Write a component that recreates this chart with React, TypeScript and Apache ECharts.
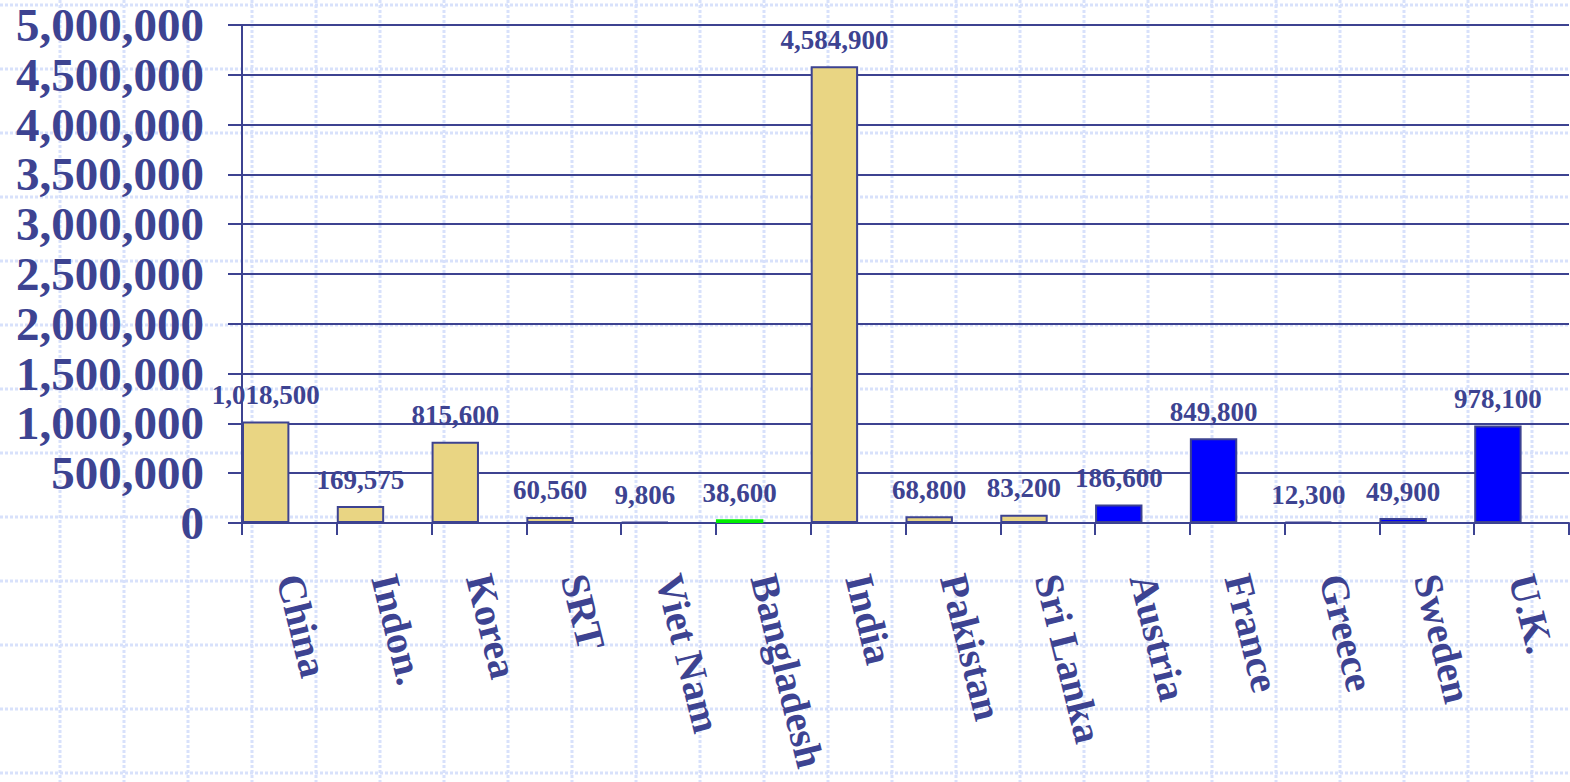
import React, { useEffect, useRef } from "react";
import * as echarts from "echarts";

const categories = ["China", "Indon.", "Korea", "SRT", "Viet Nam", "Bangladesh", "India", "Pakistan", "Sri Lanka", "Austria", "France", "Greece", "Sweden", "U.K."];
const values = [1018500, 169575, 815600, 60560, 9806, 38600, 4584900, 68800, 83200, 186600, 849800, 12300, 49900, 978100];
const groups = ["asia", "asia", "asia", "asia", "asia", "green", "asia", "asia", "asia", "europe", "europe", "europe", "europe", "europe"];

const NAVY = "#3d4391";
const FILL: Record<string, string> = { asia: "#e9d583", europe: "#0000ff", green: "#00ee00" };
const FONT = "'Liberation Serif', 'Times New Roman', serif";

const fmt = (v: number) => Math.round(v).toLocaleString("en-US");

export default function App() {
  const ref = useRef<HTMLDivElement>(null);
  useEffect(() => {
    if (!ref.current) return;
    const chart = echarts.init(ref.current, undefined, { renderer: "svg" });

    const bg: any[] = [];
    for (let x = -4; x <= 1570; x += 64) {
      bg.push({ type: "line", z: -10, silent: true, shape: { x1: x, y1: 0, x2: x, y2: 782 }, style: { stroke: "#d8e1fb", lineWidth: 3, lineDash: [3, 2] } });
    }
    for (let y = 5; y <= 782; y += 64) {
      bg.push({ type: "line", z: -10, silent: true, shape: { x1: 0, y1: y, x2: 1570, y2: y }, style: { stroke: "#d8e1fb", lineWidth: 3, lineDash: [3, 2] } });
    }

    chart.setOption({
      animation: false,
      backgroundColor: "#ffffff",
      graphic: { elements: bg },
      grid: { left: 242, right: 1, top: 25, bottom: 782 - 523, containLabel: false, outerBoundsMode: "none" },
      xAxis: {
        type: "category",
        data: categories,
        axisLine: { lineStyle: { color: NAVY, width: 2 } },
        axisTick: { show: true, length: 12, interval: 0, lineStyle: { color: NAVY, width: 2 } },
        axisLabel: {
          interval: 0,
          rotate: -76,
          margin: 52,
          color: NAVY,
          fontFamily: FONT,
          fontWeight: "bold",
          fontSize: 40,
        },
      },
      yAxis: {
        type: "value",
        min: 0,
        max: 5000000,
        interval: 500000,
        axisLine: { show: true, lineStyle: { color: NAVY, width: 2 } },
        axisTick: { show: true, length: 14, lineStyle: { color: NAVY, width: 2 } },
        splitLine: { show: true, lineStyle: { color: NAVY, width: 2 } },
        axisLabel: {
          margin: 38,
          color: NAVY,
          fontFamily: FONT,
          fontWeight: "bold",
          fontSize: 47,
          formatter: (v: number) => fmt(v),
        },
      },
      series: [
        {
          type: "bar",
          barGap: "0%",
          barCategoryGap: "0%",
          data: values.map((v, i) => ({
            value: v,
            itemStyle: {
              color: FILL[groups[i]],
              borderColor: groups[i] === "green" ? FILL.green : NAVY,
              borderWidth: 2,
            },
          })),
          label: {
            show: true,
            position: "top",
            distance: 13,
            color: NAVY,
            fontFamily: FONT,
            fontWeight: "bold",
            fontSize: 27,
            formatter: (p: any) => fmt(p.value),
          },
        },
        {
          type: "bar",
          barGap: "0%",
          barCategoryGap: "0%",
          data: values.map(() => "-"),
        },
      ],
    });
    return () => chart.dispose();
  }, []);
  return <div ref={ref} style={{ position: "absolute", left: 0, top: 0, width: 1570, height: 782 }} />;
}
